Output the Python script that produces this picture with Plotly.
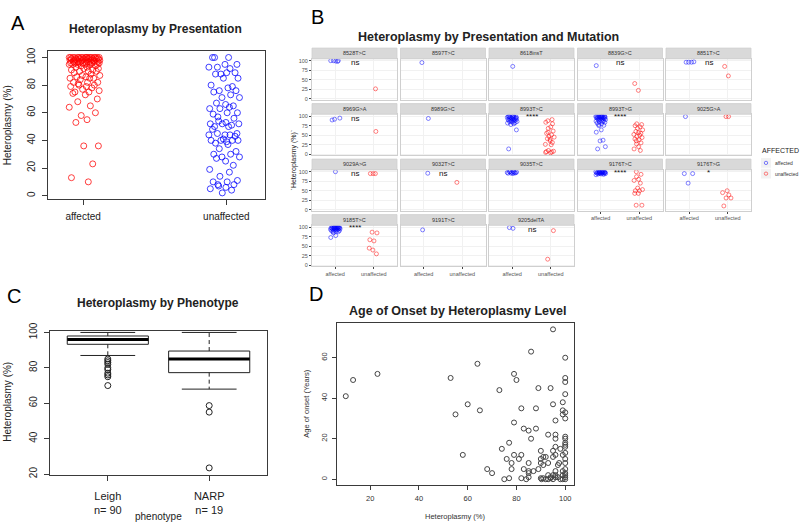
import plotly.graph_objects as go

W, H = 800, 528

# ---------------- panel A : heteroplasmy by presentation
A_AFFECTED = [100, 100, 100, 100, 100, 100, 100, 100, 100, 100, 100, 100, 100, 100, 100, 100, 100, 100,
              99, 99, 99, 99, 99, 99, 99, 99, 98, 98, 98, 98, 98, 98, 98, 98,
              97, 97, 97, 97, 97, 97, 97, 96, 96, 96, 96, 96, 96, 96, 95, 95, 95, 95, 95, 95, 95,
              94, 94, 93, 93, 92, 92, 91, 91, 90, 90, 90, 89, 88, 87, 87, 86, 86, 85, 85, 85, 84,
              82, 82, 82, 81, 80, 80, 79, 79, 78, 77, 76, 75, 75, 74, 73, 70,
              68, 65, 64, 60, 58, 55, 53, 36, 36, 23, 13, 10]
A_UNAFFECTED = [100, 100, 100, 95, 95, 93, 92, 93, 89, 88, 89, 88, 85, 85, 79, 80, 78, 76, 76, 75,
                73, 71, 71, 67, 66, 65, 63, 64, 63, 60, 59, 60, 57, 56, 54, 53, 52, 51, 52, 52,
                50, 50, 48, 44, 45, 45, 44, 44, 43, 40, 39, 38, 40, 41, 40, 40, 37, 34, 32, 30,
                30, 28, 28, 27, 25, 22, 19, 17, 14, 11, 10, 10, 8, 8, 7, 6, 5, 4, 2]
A_CATS = ['affected', 'unaffected']

# ---------------- panel B : by presentation and mutation
MUTATIONS = ['8528T>C', '8597T>C', '8618insT', '8839G>C', '8851T>C',
             '8969G>A', '8989G>C', '8993T>C', '8993T>G', '9025G>A',
             '9029A>G', '9032T>C', '9035T>C', '9176T>C', '9176T>G',
             '9185T>C', '9191T>C', '9205delTA']
B_AFFECTED = [
    [100, 100, 99, 100, 98],
    [95],
    [85],
    [87],
    [96, 96, 97, 96],
    [92, 95, 90],
    [94],
    [100, 100, 99, 99, 98, 98, 97, 97, 96, 96, 95, 95, 94, 93, 93, 92, 91, 90, 90, 89,
     88, 87, 86, 85, 84, 83, 82, 80, 78, 64, 14],
    [100, 100, 100, 100, 99, 99, 99, 98, 98, 98, 97, 97, 97, 96, 96, 95, 95, 94, 94, 93,
     92, 91, 90, 89, 88, 87, 86, 85, 84, 82, 80, 78, 76, 75, 64, 58, 37, 35, 20, 14],
    [99],
    [100],
    [96],
    [100, 99, 98, 97, 96, 95, 100, 99, 98, 97, 96, 100],
    [100, 100, 100, 99, 99, 99, 98, 98, 98, 97, 97, 97, 96, 96, 96, 95, 95, 94, 94, 93,
     92, 100, 99, 98],
    [95, 95, 70],
    [100, 100, 100, 100, 99, 99, 99, 98, 98, 98, 97, 97, 97, 96, 96, 95, 95, 94, 94, 93,
     92, 91, 90, 89, 88, 88, 85, 78, 73, 100, 99],
    [93],
    [97, 99],
]
B_UNAFFECTED = [
    [26],
    [],
    [],
    [40, 22],
    [85, 60],
    [60],
    [],
    [91, 84, 72, 68, 61, 55, 51, 47, 45, 41, 39, 31, 26, 25, 10, 8, 7, 4, 88, 80, 58, 35, 5, 6],
    [80, 78, 75, 72, 68, 64, 60, 57, 55, 52, 50, 47, 44, 40, 38, 35, 30, 27, 20, 14, 10],
    [99, 99],
    [95, 95, 95],
    [72],
    [],
    [100, 93, 87, 80, 77, 70, 57, 53, 50, 50, 43, 43, 12, 12],
    [50, 45, 39, 31, 31, 10],
    [87, 85, 67, 64, 45, 40, 30],
    [],
    [91, 16],
]
B_SIG = ['ns', '', '', 'ns', 'ns',
         'ns', '', '****', '****', '',
         'ns', 'ns', '', '****', '*',
         '****', '', 'ns']

# ---------------- panel C : by phenotype (box summary)
C_GROUPS = ['Leigh', 'NARP']
C_N = [90, 19]
C_LOW = [87, 68]
C_Q1 = [93.3, 77.3]
C_MED = [96, 85]
C_Q3 = [98, 89.5]
C_HIGH = [100, 100]
C_OUTLIERS = [[85, 84, 83, 82, 80, 79, 77, 76, 75, 70], [58.7, 55, 23.5]]

# ---------------- panel D : age of onset vs heteroplasmy
D_HET = [10, 13, 23, 53, 64, 55, 60, 65, 58, 73, 79, 80, 86, 95, 100, 100, 100, 89, 94, 82,
         88, 95, 100, 99, 99, 100, 99, 100, 79, 96, 83, 85, 88, 93, 96, 96, 86, 100, 100, 100,
         100, 100, 77, 74, 96, 95, 98, 90, 79, 82, 96, 99, 100, 76, 81, 90, 91, 92, 95, 78,
         85, 90, 93, 97, 97.5, 91, 100, 100, 68, 70, 78, 83, 87, 89, 85, 85, 96, 99, 100, 100,
         75, 77, 82, 84, 85, 90, 90.3, 91, 93, 93, 94, 95, 95, 96, 97, 98, 99, 99, 100, 100,
         100, 96, 94, 92]
D_AGE = [41, 49, 52, 50, 57, 32, 37, 34, 12, 44, 52, 49, 63, 74, 60, 50, 48, 45, 45, 35,
         35, 37, 42, 38, 34, 33, 32, 30, 28, 29, 25, 24, 25, 22, 22, 20, 20, 21, 20, 18,
         17, 16, 18, 15, 16, 14, 15, 14, 12, 12, 12, 12, 13, 10, 10, 10, 11, 11, 11, 8,
         8, 8, 8, 7, 8, 7, 8, 10, 5, 3, 5, 5, 4, 5, 4, 3, 4, 4, 5, 3,
         0, 0.5, 0.5, 0, 1, 0.5, 0, 0.5, 2, 0, 1, 2, 0, 1, 1, 0, 2, 0, 1, 0,
         2, 2, 0.5, 0]

# fixed jitter pattern (stripchart / geom_jitter look)
JITTER = [0.62, -0.35, 0.11, -0.88, 0.47, -0.12, 0.93, -0.61, 0.28, -0.74, 0.05, 0.81, -0.43,
          0.37, -0.97, 0.69, -0.21, 0.16, -0.55, 0.88, -0.05, 0.52, -0.83, 0.24, -0.31, 0.75,
          -0.66, 0.41, -0.14, 0.97, -0.49, 0.09, 0.58, -0.92, 0.33, -0.27, 0.84, -0.7, 0.19, -0.4]

FONT = 'Liberation Sans, Arial, sans-serif'
FRAME = '#3a3a3a'
RED = 'rgba(255,0,0,0.75)'
BLUE = 'rgba(0,0,255,0.75)'
RED_B = 'rgba(255,0,0,0.55)'
BLUE_B = 'rgba(0,0,255,0.55)'


def px(x):
    return x / W


def py(y):
    return 1 - y / H


fig = go.Figure()
annotations = []
shapes = []


def note(text, x, y, size, color='#222', bold=False, angle=0, family=FONT,
         xanchor='center', yanchor='middle', xref='paper', yref='paper'):
    if bold:
        text = '<b>' + text + '</b>'
    annotations.append(dict(text=text, x=x, y=y, xref=xref, yref=yref, showarrow=False,
                            font=dict(size=size, color=color, family=family), textangle=angle,
                            xanchor=xanchor, yanchor=yanchor))


# ---------- A
fig.add_trace(go.Scatter(x=[1 + 0.01 + 0.11 * JITTER[i % 40] for i in range(len(A_AFFECTED))],
                         y=A_AFFECTED, mode='markers', xaxis='x', yaxis='y', showlegend=False,
                         marker=dict(symbol='circle-open', size=6, color=RED, line=dict(width=1))))
fig.add_trace(go.Scatter(x=[2 - 0.015 + 0.11 * JITTER[(i + 7) % 40] for i in range(len(A_UNAFFECTED))],
                         y=A_UNAFFECTED, mode='markers', xaxis='x', yaxis='y', showlegend=False,
                         marker=dict(symbol='circle-open', size=6, color=BLUE, line=dict(width=1))))

base_ax = dict(showline=True, mirror=True, linecolor=FRAME, linewidth=1, showgrid=False,
               zeroline=False, ticks='outside', ticklen=5, tickcolor=FRAME)
fig.update_layout(
    xaxis=dict(base_ax, domain=[px(48), px(265)], range=[0.755, 2.27], tickvals=[1, 2],
               ticktext=A_CATS, tickfont=dict(size=10, color='#222', family=FONT),
               ticklabelstandoff=3),
    yaxis=dict(base_ax, domain=[py(195), py(44)], range=[-2.1, 104.7],
               tickvals=[0, 20, 40, 60, 80, 100], tickangle=-90,
               tickfont=dict(size=10, color='#222', family=FONT), ticklabelstandoff=3),
)
note('Heteroplasmy by Presentation', px(155), py(21), 12, bold=True)
note('Heteroplasmy (%)', px(7), py(120), 10, angle=-90)
note('A', px(18), py(15), 20, color='#000')

# ---------- C (boxplot drawn from summary stats)
for k in range(len(C_GROUPS)):
    c = k + 1
    hw, cw = 0.4, 0.27
    fig.add_trace(go.Scatter(x=[c - hw, c + hw, c + hw, c - hw, c - hw],
                             y=[C_Q1[k], C_Q1[k], C_Q3[k], C_Q3[k], C_Q1[k]],
                             mode='lines', line=dict(color='#222', width=1),
                             xaxis='x2', yaxis='y2', showlegend=False))
    fig.add_trace(go.Scatter(x=[c - hw, c + hw], y=[C_MED[k], C_MED[k]], mode='lines',
                             line=dict(color='#000', width=3), xaxis='x2', yaxis='y2',
                             showlegend=False))
    for a, b in [(C_Q3[k], C_HIGH[k]), (C_Q1[k], C_LOW[k])]:
        fig.add_trace(go.Scatter(x=[c, c], y=[a, b], mode='lines',
                                 line=dict(color='#222', width=1, dash='4px,3px'),
                                 xaxis='x2', yaxis='y2', showlegend=False))
        fig.add_trace(go.Scatter(x=[c - cw, c + cw], y=[b, b], mode='lines',
                                 line=dict(color='#222', width=1),
                                 xaxis='x2', yaxis='y2', showlegend=False))
    fig.add_trace(go.Scatter(x=[c] * len(C_OUTLIERS[k]), y=C_OUTLIERS[k], mode='markers',
                             marker=dict(symbol='circle-open', size=6, color='#222',
                                         line=dict(width=1)),
                             xaxis='x2', yaxis='y2', showlegend=False))

fig.update_layout(
    xaxis2=dict(base_ax, domain=[px(50), px(267)], range=[0.43, 2.57], tickvals=[1, 2],
                ticktext=[g + '<br>n= ' + str(n) for g, n in zip(C_GROUPS, C_N)],
                tickfont=dict(size=11, color='#222', family=FONT), anchor='y2',
                ticklabelstandoff=6),
    yaxis2=dict(base_ax, domain=[py(477.5), py(330)], range=[19.7, 101.1],
                tickvals=[20, 40, 60, 80, 100], tickangle=-90, anchor='x2',
                tickfont=dict(size=10, color='#222', family=FONT), ticklabelstandoff=3),
)
note('Heteroplasmy by Phenotype', px(158), py(302), 12, bold=True)
note('Heteroplasmy (%)', px(8), py(403), 10, angle=-90)
note('phenotype', px(158), py(527.5), 10, yanchor='bottom')
note('C', px(14), py(295), 20, color='#000')

# ---------- D
fig.add_trace(go.Scatter(x=D_HET, y=D_AGE, mode='markers', xaxis='x3', yaxis='y3',
                         showlegend=False,
                         marker=dict(symbol='circle-open', size=5, color='#444',
                                     line=dict(width=1))))
fig.update_layout(
    xaxis3=dict(base_ax, domain=[px(337), px(574)], range=[6.4, 103.6], anchor='y3',
                tickvals=[20, 40, 60, 80, 100], ticklen=4,
                tickfont=dict(size=7.5, color='#333', family=FONT), ticklabelstandoff=2),
    yaxis3=dict(base_ax, domain=[py(488.3), py(322.7)], range=[-2.96, 76.96], anchor='x3',
                tickvals=[0, 20, 40, 60], tickangle=-90, ticklen=4,
                tickfont=dict(size=7.5, color='#333', family=FONT), ticklabelstandoff=2),
)
note('Age of Onset by Heteroplasmy Level', px(457), py(310), 12.5, bold=True)
note('Age of onset (Years)', px(307), py(405), 7.5, angle=-90, color='#333')
note('Heteroplasmy (%)', px(455), py(520), 7.5, color='#333')
note('D', px(316), py(293), 20, color='#000')

# ---------- B facets
PANEL_W, PANEL_H, STRIP_H = 85, 42, 11
for i, mut in enumerate(MUTATIONS):
    r, c = divmod(i, 5)
    x0 = 312 + c * 88.5
    y0 = 52 + r * 56.8
    n = i + 4
    xa, ya = 'x%d' % n, 'y%d' % n
    aff, un = B_AFFECTED[i], B_UNAFFECTED[i]
    fig.add_trace(go.Scatter(x=[1 + 0.13 * JITTER[(j + i) % 40] for j in range(len(aff))], y=aff,
                             mode='markers', xaxis=xa, yaxis=ya, name='affected',
                             showlegend=False,
                             marker=dict(symbol='circle-open', size=4, color=BLUE_B,
                                         line=dict(width=0.9))))
    if un:
        fig.add_trace(go.Scatter(x=[2 - 0.03 + 0.12 * JITTER[(j + 3 * i) % 40] for j in range(len(un))],
                                 y=un, mode='markers', xaxis=xa, yaxis=ya, name='unaffected',
                                 showlegend=False,
                                 marker=dict(symbol='circle-open', size=4, color=RED_B,
                                             line=dict(width=0.9))))
    bottom = i >= 13
    left = c == 0
    fig.update_layout(**{
        'xaxis%d' % n: dict(domain=[px(x0), px(x0 + PANEL_W)], range=[0.4, 2.6], anchor=ya,
                            tickvals=[1, 2], ticktext=A_CATS, showticklabels=bottom,
                            ticks='outside' if bottom else '', ticklen=2, tickcolor='#444',
                            tickfont=dict(size=5.5, color='#555', family=FONT),
                            showline=True, mirror=True, linecolor='#cfcfcf', linewidth=1,
                            showgrid=True, gridcolor='#f1f1f1', gridwidth=0.6, zeroline=False),
        'yaxis%d' % n: dict(domain=[py(y0 + PANEL_H), py(y0)], range=[-2.9, 104.9], anchor=xa,
                            tickvals=[0, 25, 50, 75, 100], showticklabels=left,
                            ticks='outside' if left else '', ticklen=2, tickcolor='#444',
                            tickfont=dict(size=5.5, color='#555', family=FONT),
                            showline=True, mirror=True, linecolor='#cfcfcf', linewidth=1,
                            showgrid=True, gridcolor='#f1f1f1', gridwidth=0.6, zeroline=False),
    })
    shapes.append(dict(type='rect', xref='paper', yref='paper', x0=px(x0), x1=px(x0 + PANEL_W),
                       y0=py(y0), y1=py(y0 - STRIP_H), fillcolor='#d9d9d9',
                       line=dict(color='#cfcfcf', width=0.8), layer='above'))
    note(mut, px(x0 + PANEL_W / 2), py(y0 - STRIP_H / 2), 5.5, color='#333')
    if B_SIG[i]:
        note(B_SIG[i], 1.5, 95 if B_SIG[i] == 'ns' else 99, 8, color='#111', xref=xa, yref=ya)

note('Heteroplasmy by Presentation and Mutation', px(488), py(30), 12.5, bold=True)
note('`Heteroplasmy (%)`', px(294), py(156), 7, angle=-90, color='#222')
note('B', px(317), py(9), 20, color='#000')

# legend (AFFECTED)
note('AFFECTED', px(760), py(146), 7, color='#222', xanchor='left')
for k, (lab, col) in enumerate([('affected', BLUE_B), ('unaffected', RED_B)]):
    yc = 158.5 + k * 11
    shapes.append(dict(type='rect', xref='paper', yref='paper', x0=px(761), x1=px(771),
                       y0=py(yc + 5), y1=py(yc - 5), fillcolor='#f2f2f2', line=dict(width=0)))
    shapes.append(dict(type='circle', xref='paper', yref='paper', x0=px(764.3), x1=px(767.7),
                       y0=py(yc + 1.7), y1=py(yc - 1.7), line=dict(color=col, width=0.9)))
    note(lab, px(773), py(yc), 5, color='#333', xanchor='left')

fig.update_layout(width=W, height=H, margin=dict(l=0, r=0, t=0, b=0),
                  paper_bgcolor='white', plot_bgcolor='white', showlegend=False,
                  annotations=annotations, shapes=shapes, font=dict(family=FONT))

# drop the browser's default 8px body margin so the figure sits at the window's corner
fig.write_html('out.html', config={'displayModeBar': False},
               post_script="document.body.style.margin='0';")
